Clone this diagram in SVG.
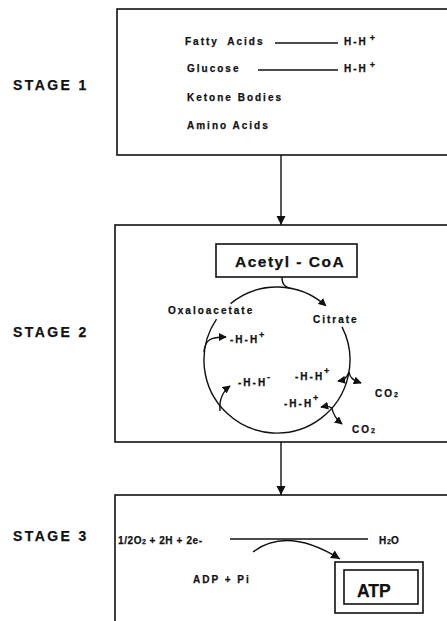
<svg xmlns="http://www.w3.org/2000/svg" width="447" height="621" viewBox="0 0 447 621">
<style>
.box{fill:none;stroke:#111;stroke-width:1.6}
.ln{fill:none;stroke:#111;stroke-width:1.4}
.t{font-family:"Liberation Sans",Arial,sans-serif;font-weight:bold;fill:#111;stroke:#111;stroke-width:0.25}
.s{font-size:10px;letter-spacing:2px}
.stage{font-size:14px;letter-spacing:2.4px}
.sup{font-size:9px;letter-spacing:0}
.sub{font-size:7px;letter-spacing:0}
</style>
<defs>
<marker id="big" viewBox="0 0 10 10" refX="10" refY="5" markerWidth="9" markerHeight="10" markerUnits="userSpaceOnUse" orient="auto"><path d="M0,0 L10,5 L0,10 Z" fill="#111"/></marker>
<marker id="sm" viewBox="0 0 10 10" refX="9" refY="5" markerWidth="8" markerHeight="8" markerUnits="userSpaceOnUse" orient="auto"><path d="M0,0 L10,5 L0,10 Z" fill="#111"/></marker>
</defs>

<g id="labels">
<text class="t stage" x="13" y="90">STAGE 1</text>
<text class="t stage" x="13" y="337">STAGE 2</text>
<text class="t stage" x="13" y="541">STAGE 3</text>
</g>

<g id="stage1">
<rect class="box" x="117" y="9" width="345" height="146"/>
<text class="t s" x="185" y="45" word-spacing="4">Fatty Acids</text>
<text class="t s" x="344" y="45">H-H<tspan class="sup" dx="2" dy="-4">+</tspan></text>
<text class="t s" x="187" y="72">Glucose</text>
<text class="t s" x="344" y="72">H-H<tspan class="sup" dx="2" dy="-4">+</tspan></text>
<text class="t s" x="187" y="101">Ketone Bodies</text>
<text class="t s" x="187" y="129">Amino Acids</text>
</g>

<g id="stage2">
<rect class="box" x="115" y="225" width="345" height="217"/>
</g>

<g id="acetyl-coa">
<rect class="box" x="216" y="244" width="141" height="33"/>
<text class="t" x="235" y="267" font-size="15.5" letter-spacing="1.5">Acetyl - CoA</text>
</g>

<g id="cycle">
<text class="t s" x="168" y="314">Oxaloacetate</text>
<text class="t s" x="313" y="323" letter-spacing="1.8">Citrate</text>
<text class="t s" x="230" y="343">-H-H<tspan class="sup" dx="0" dy="-5">+</tspan></text>
<text class="t s" x="238" y="386">-H-H<tspan class="sup" dx="0" dy="-6">-</tspan></text>
<text class="t s" x="295" y="380">-H-H<tspan class="sup" dx="0" dy="-6">+</tspan></text>
<text class="t s" x="284" y="407">-H-H<tspan class="sup" dx="0" dy="-6">+</tspan></text>
<text class="t s" x="375" y="397" letter-spacing="1.2">CO<tspan class="sub">2</tspan></text>
<text class="t s" x="352" y="433" letter-spacing="1.2">CO<tspan class="sub">2</tspan></text>
</g>

<g id="stage3">
<rect class="box" x="115" y="495" width="345" height="140"/>
<text class="t" x="118" y="544" font-size="10" letter-spacing="0.6">1/2O<tspan class="sub">2</tspan> + 2H + 2e-</text>
<text class="t" x="379" y="544" font-size="10" letter-spacing="0.8">H<tspan class="sub">2</tspan>O</text>
<text class="t s" x="193" y="583" letter-spacing="1.9">ADP + Pi</text>
</g>

<g id="atp">
<rect class="box" x="335" y="562" width="88" height="51"/>
<rect class="box" x="344" y="570" width="74" height="34"/>
<text class="t" x="357" y="597" font-size="17.5">ATP</text>
</g>

<g id="connectors">
<line class="ln" x1="281" y1="155" x2="281" y2="225" marker-end="url(#big)"/>
<line class="ln" x1="281" y1="442" x2="281" y2="495" marker-end="url(#big)"/>
<path class="ln" d="M230.6,303.6 A73,73 0 0 1 325.8,305.8" marker-end="url(#sm)"/>
<path class="ln" d="M342,326.9 A73,73 0 1 1 216.5,319.2"/>
<path class="ln" d="M282,277 C282,284 284,287 292,288.6"/>
<path class="ln" d="M204,352 C205,340 210,337 226,337" marker-end="url(#sm)"/>
<path class="ln" d="M220,411 C219,400 222,392 230,386" marker-end="url(#sm)"/>
<path class="ln" d="M349,372 C350,378 353,380 361,383" marker-end="url(#sm)"/>
<path class="ln" d="M349,372 C347,378 344,380 338,381" marker-end="url(#sm)"/>
<path class="ln" d="M332,408 C329,406 326,406 321,407" marker-end="url(#sm)"/>
<path class="ln" d="M332,408 C333,415 336,419 342,424" marker-end="url(#sm)"/>
<line class="ln" x1="275" y1="43" x2="338" y2="43"/>
<line class="ln" x1="258" y1="70" x2="338" y2="70"/>
<line class="ln" x1="230" y1="539" x2="368" y2="539" stroke-width="1.8"/>
<path class="ln" d="M253,552 Q287,526 340,559" stroke-width="1.6" marker-end="url(#big)"/>
</g>
</svg>
